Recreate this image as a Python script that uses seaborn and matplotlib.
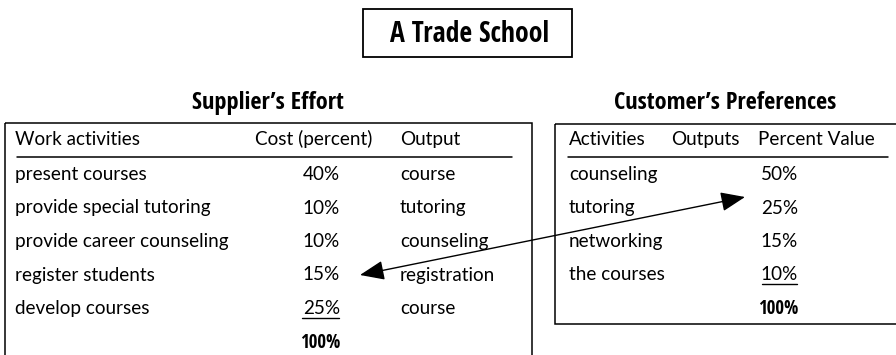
"""A Trade School: supplier's effort vs customer's preferences."""

import matplotlib
matplotlib.use("Agg")
import matplotlib.pyplot as plt
from matplotlib.patches import Rectangle
import seaborn as sns

# data
title = "A Trade School"
supplier_title = "Supplier\u2019s Effort"
customer_title = "Customer\u2019s Preferences"

supplier_headers = ["Work activities", "Cost (percent)", "Output"]
work_activities = ["present courses", "provide special tutoring",
                   "provide career counseling", "register students",
                   "develop courses"]
cost_percent = [40, 10, 10, 15, 25]
outputs = ["course", "tutoring", "counseling", "registration", "course"]

customer_headers = ["Activities", "Outputs", "Percent Value"]
pref_activities = ["counseling", "tutoring", "networking", "the courses"]
pref_percent = [50, 25, 15, 10]

sns.set_theme(style="white")
plt.rcParams["font.family"] = ["Lato", "DejaVu Sans"]
plt.rcParams["text.color"] = "black"

BODY = 13.6
HEAD_FONT = ["Open Sans Condensed", "DejaVu Sans"]

fig = plt.figure(figsize=(8.96, 3.55), dpi=100)
ax = fig.add_axes([0, 0, 1, 1])
ax.set_xlim(0, 896)
ax.set_ylim(355, 0)
ax.axis("off")

# title box
ax.add_patch(Rectangle((363, 9), 209, 48, fill=False, lw=1.3, ec="black"))
ax.text(470, 34, title, ha="center", va="center", fontsize=20,
        fontweight="bold", family=HEAD_FONT)

ax.text(268, 103, supplier_title, ha="center", va="center", fontsize=17.5,
        fontweight="bold", family=HEAD_FONT)
ax.text(725, 103, customer_title, ha="center", va="center", fontsize=17.5,
        fontweight="bold", family=HEAD_FONT)

# boxes (left one runs off the bottom, right one off the right edge)
ax.add_patch(Rectangle((5, 123), 527, 260, fill=False, lw=1.1, ec="black"))
ax.add_patch(Rectangle((555, 124), 360, 200, fill=False, lw=1.1, ec="black"))

base0, dy, head_base = 180, 33.5, 145

# supplier table
for x, h in zip([15, 255, 400], supplier_headers):
    ax.text(x, head_base, h, va="baseline", fontsize=BODY)
ax.plot([17, 512], [157, 157], color="black", lw=1.1)
for i, (act, cost, out) in enumerate(zip(work_activities, cost_percent, outputs)):
    y = base0 + i * dy
    ax.text(15, y, act, va="baseline", fontsize=BODY)
    ax.text(340, y, f"{cost}%", va="baseline", ha="right", fontsize=BODY)
    ax.text(400, y, out, va="baseline", fontsize=BODY)
n = len(work_activities)
ax.plot([302, 339], [base0 + (n - 1) * dy + 3.5] * 2, color="black", lw=1)
ax.text(340, base0 + n * dy, f"{sum(cost_percent)}%", va="baseline", ha="right",
        fontsize=13.5, fontweight="bold", family=HEAD_FONT)

# customer table
for x, h in zip([569, 671, 758], customer_headers):
    ax.text(x, head_base, h, va="baseline", fontsize=BODY)
ax.plot([568, 888], [157, 157], color="black", lw=1.1)
for i, (act, pct) in enumerate(zip(pref_activities, pref_percent)):
    y = base0 + i * dy
    ax.text(569, y, act, va="baseline", fontsize=BODY)
    ax.text(798, y, f"{pct}%", va="baseline", ha="right", fontsize=BODY)
n = len(pref_activities)
ax.plot([762, 797], [base0 + (n - 1) * dy + 3.5] * 2, color="black", lw=1)
ax.text(798, base0 + n * dy, f"{sum(pref_percent)}%", va="baseline", ha="right",
        fontsize=13.5, fontweight="bold", family=HEAD_FONT)

# double-headed arrow linking registration cost and tutoring value
ax.annotate("", xy=(360, 275), xytext=(745, 197),
            arrowprops=dict(arrowstyle="<|-|>,head_length=0.75,head_width=0.3",
                            color="black", lw=1, mutation_scale=20,
                            shrinkA=0, shrinkB=0))

fig.savefig("out.png", dpi=100)
